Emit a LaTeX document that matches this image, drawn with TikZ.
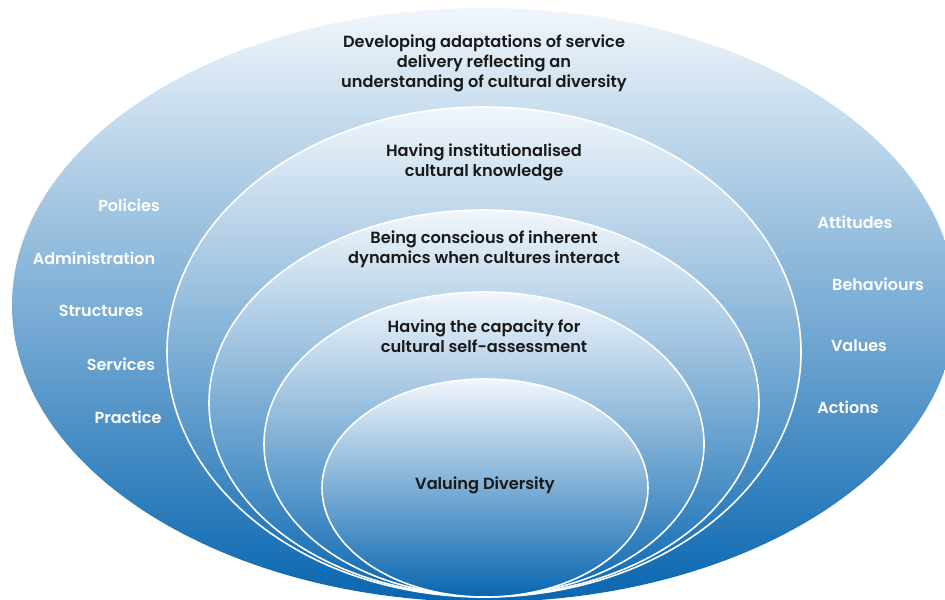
\documentclass[tikz,border=0pt]{standalone}
\usepackage{fontspec}
\setmainfont{Poppins}[UprightFont=* SemiBold]
\definecolor{topc}{RGB}{241,246,251}
\definecolor{botc}{RGB}{8,102,176}
\begin{document}
\begin{tikzpicture}[x=0.5pt,y=0.5pt,
  ring/.style={top color=topc,bottom color=botc,draw=white,line width=0.8pt},
  lbl/.style={font=\fontsize{8.1}{10}\selectfont,align=center,text=black!90,inner sep=0pt},
  side/.style={font=\fontsize{8.0}{10}\selectfont,text=white,inner sep=0pt}]
\useasboundingbox (0,0) rectangle (945,-599);
\clip (0,0) rectangle (945,-599);
\shade[top color=topc,bottom color=botc] (484,-305) ellipse [x radius=472,y radius=297];
\shade[ring] (484,-352) ellipse [x radius=317,y radius=245];
\shade[ring] (484,-403) ellipse [x radius=275,y radius=193];
\shade[ring] (484,-444) ellipse [x radius=220,y radius=152];
\shade[ring] (485,-488) ellipse [x radius=163,y radius=109];
\node[lbl] (l1) at (484,-63) {Developing adaptations of service\\delivery reflecting an\\understanding of cultural diversity};
\node[lbl] (l2) at (484,-162) {Having institutionalised\\cultural knowledge};
\node[lbl] (l3) at (484,-249) {Being conscious of inherent\\dynamics when cultures interact};
\node[lbl] (l4) at (484,-336) {Having the capacity for\\cultural self-assessment};
\node[lbl] (l5) at (485,-485) {Valuing Diversity};
\node[side] (a1) at (129,-205) {Policies};
\node[side] (a2) at (94,-258) {Administration};
\node[side] (a3) at (101,-311) {Structures};
\node[side] (a4) at (121,-364) {Services};
\node[side] (a5) at (128,-417) {Practice};
\node[side] (b1) at (855,-222) {Attitudes};
\node[side] (b2) at (878,-284) {Behaviours};
\node[side] (b3) at (859,-346) {Values};
\node[side] (b4) at (848,-407) {Actions};
\end{tikzpicture}
\end{document}
